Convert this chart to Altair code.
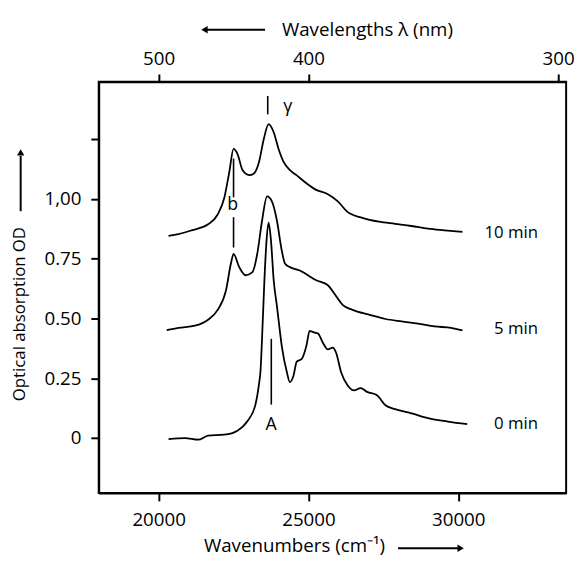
import altair as alt
import pandas as pd

# ---- data (wavenumber in cm^-1, plotted OD incl. offsets) ----
nu_0 = [20330, 20880, 21320, 21650, 22190, 22630, 22960, 23230, 23350, 23400, 23450,
        23530, 23600, 23670, 23750, 23840, 23950, 24110, 24280, 24380, 24500, 24610,
        24770, 24930, 25040, 25160, 25320, 25480, 25650, 25810, 25920, 26090, 26310,
        26520, 26740, 26960, 27290, 27570, 27890, 28440, 29100, 29650, 30300]
od_0 = [-0.004, 0.000, -0.007, 0.010, 0.014, 0.031, 0.070, 0.140, 0.227, 0.281, 0.413,
        0.660, 0.825, 0.901, 0.825, 0.660, 0.550, 0.385, 0.275, 0.234, 0.261, 0.320,
        0.330, 0.385, 0.448, 0.443, 0.437, 0.399, 0.371, 0.378, 0.358, 0.275, 0.220,
        0.199, 0.209, 0.193, 0.179, 0.137, 0.121, 0.103, 0.080, 0.069, 0.058]

nu_5 = [20270, 20660, 21210, 21650, 21970, 22250, 22410, 22500, 22690, 22900, 23130,
        23290, 23450, 23620, 23780, 23950, 24110, 24220, 24380, 24710, 24930, 25260,
        25650, 25860, 26140, 26470, 27020, 27570, 28110, 28660, 29210, 29760, 30140]
od_5 = [0.451, 0.461, 0.470, 0.495, 0.536, 0.619, 0.729, 0.770, 0.715, 0.681, 0.694,
        0.770, 0.908, 1.011, 0.990, 0.908, 0.784, 0.729, 0.715, 0.701, 0.685, 0.660,
        0.639, 0.605, 0.557, 0.536, 0.516, 0.498, 0.488, 0.479, 0.467, 0.461, 0.450]

nu_10 = [20330, 20660, 21100, 21650, 21970, 22190, 22360, 22500, 22630, 22800, 23020,
         23180, 23350, 23510, 23670, 23840, 24000, 24170, 24380, 24600, 24930, 25260,
         25650, 25980, 26300, 26800, 27350, 27890, 28440, 28990, 29540, 30140]
od_10 = [0.846, 0.853, 0.869, 0.894, 0.935, 1.004, 1.114, 1.210, 1.189, 1.121, 1.100,
         1.107, 1.155, 1.251, 1.313, 1.279, 1.210, 1.155, 1.121, 1.100, 1.066, 1.038,
         1.020, 0.990, 0.946, 0.921, 0.905, 0.896, 0.887, 0.876, 0.869, 0.862]

series_names = ["0 min", "5 min", "10 min"]
series_label_od = [0.058, 0.454, 0.859]

x_ticks = [20000, 25000, 30000]
y_ticks = [0, 0.25, 0.5, 0.75, 1.0, 1.25]
wl_ticks_nm = [500, 400, 300]

# annotation markers
ann_text = ["b", "A", "γ"]
ann_nu = [22467, 23750, 24310]
ann_od = [0.974, 0.054, 1.386]
seg_nu = [22500, 22500, 23760, 23641]
seg_od1 = [1.169, 0.924, 0.415, 1.431]
seg_od2 = [1.007, 0.797, 0.140, 1.354]

X_DOMAIN = [18000, 33600]
Y_DOMAIN = [-0.23, 1.49]
FONT = "Open Sans"

rows = []
for name, nus, ods in [("0 min", nu_0, od_0), ("5 min", nu_5, od_5), ("10 min", nu_10, od_10)]:
    for n, o in zip(nus, ods):
        rows.append({"nu": n, "od": o, "series": name})
curves = pd.DataFrame(rows)

labels_df = pd.DataFrame({"nu": [32660] * 3, "od": series_label_od, "label": series_names})
ann_df = pd.DataFrame({"nu": ann_nu, "od": ann_od, "label": ann_text})
seg_df = pd.DataFrame({"nu": seg_nu, "od": seg_od1, "od2": seg_od2})

# arrows beside the axis titles (in data units, outside the plot area)
arr_df = pd.DataFrame({
    "x1": [27990, 21580, 15395], "x2": [30000, 23550, 15395],
    "y1": [-0.461, 1.708, 0.949], "y2": [-0.461, 1.708, 1.180],
})
head_df = pd.DataFrame({
    "x": [30080, 21530, 15395], "y": [-0.461, 1.708, 1.195],
    "shape": ["triangle-right", "triangle-left", "triangle-up"],
})

xs = alt.Scale(domain=X_DOMAIN, nice=False, zero=False)
ys = alt.Scale(domain=Y_DOMAIN, nice=False, zero=False)

y_label_expr = ("datum.value == 1 ? '1,00' : (datum.value > 1.1 ? '' : "
                "(datum.value == 0 ? '0' : format(datum.value, '.2f')))")

lines = alt.Chart(curves).mark_line(color="black", strokeWidth=1.8, interpolate="monotone").encode(
    x=alt.X("nu:Q", scale=xs, axis=alt.Axis(
        orient="bottom", values=x_ticks, format="d",
        title="Wavenumbers (cm⁻¹)", titleX=198, titleY=53, titleFontSize=19,
        titleAlign="center", titleBaseline="middle")),
    y=alt.Y("od:Q", scale=ys, axis=alt.Axis(
        values=y_ticks, labelExpr=y_label_expr,
        title="Optical absorption OD", titleX=-80, titleY=235, titleAngle=270,
        titleAlign="center", titleBaseline="middle")),
    detail="series:N",
)

top_axis = alt.Chart(curves).mark_line(strokeOpacity=0).encode(
    x=alt.X("nu:Q", scale=xs, axis=alt.Axis(
        orient="top", values=[1e7 / w for w in wl_ticks_nm],
        labelExpr="format(round(1e7 / datum.value), 'd')",
        labelPadding=6,
        title="Wavelengths λ (nm)", titleX=272, titleY=-53, titleFontSize=19,
        titleAlign="center", titleBaseline="middle")),
    y=alt.Y("od:Q", scale=ys, axis=None),
    detail="series:N",
)

series_text = alt.Chart(labels_df).mark_text(
    font=FONT, fontSize=17, align="right", baseline="middle", color="black"
).encode(
    x=alt.X("nu:Q", scale=xs, axis=None),
    y=alt.Y("od:Q", scale=ys, axis=None),
    text="label:N",
)

ann_text_layer = alt.Chart(ann_df).mark_text(
    font=FONT, fontSize=18, align="center", baseline="middle", color="black"
).encode(
    x=alt.X("nu:Q", scale=xs, axis=None),
    y=alt.Y("od:Q", scale=ys, axis=None),
    text="label:N",
)

segs = alt.Chart(seg_df).mark_rule(color="black", strokeWidth=1.6).encode(
    x=alt.X("nu:Q", scale=xs, axis=None),
    y=alt.Y("od:Q", scale=ys, axis=None),
    y2="od2:Q",
)

arrows = alt.Chart(arr_df).mark_rule(color="black", strokeWidth=2).encode(
    x=alt.X("x1:Q", scale=xs, axis=None),
    x2="x2:Q",
    y=alt.Y("y1:Q", scale=ys, axis=None),
    y2="y2:Q",
)

heads = alt.Chart(head_df).mark_point(filled=True, color="black", size=55, opacity=1).encode(
    x=alt.X("x:Q", scale=xs, axis=None),
    y=alt.Y("y:Q", scale=ys, axis=None),
    shape=alt.Shape("shape:N", scale=None),
)

chart = alt.layer(
    lines, top_axis, series_text, ann_text_layer, segs, arrows, heads
).resolve_axis(x="independent", y="independent").properties(
    width=474, height=417,
    autosize=alt.AutoSizeParams(type="none"),
    padding={"left": 92, "top": 71, "right": 9, "bottom": 63},
).configure_view(
    stroke="black", strokeWidth=2
).configure_axis(
    grid=False, domainColor="black", domainWidth=2, tickColor="black", tickWidth=2,
    tickSize=8, labelFont=FONT, labelFontSize=19, labelColor="black", labelPadding=10,
    titleFont=FONT, titleFontSize=17, titleFontWeight="normal", titleColor="black",
)

chart.save("out.html", embed_options={"renderer": "svg", "actions": False})
